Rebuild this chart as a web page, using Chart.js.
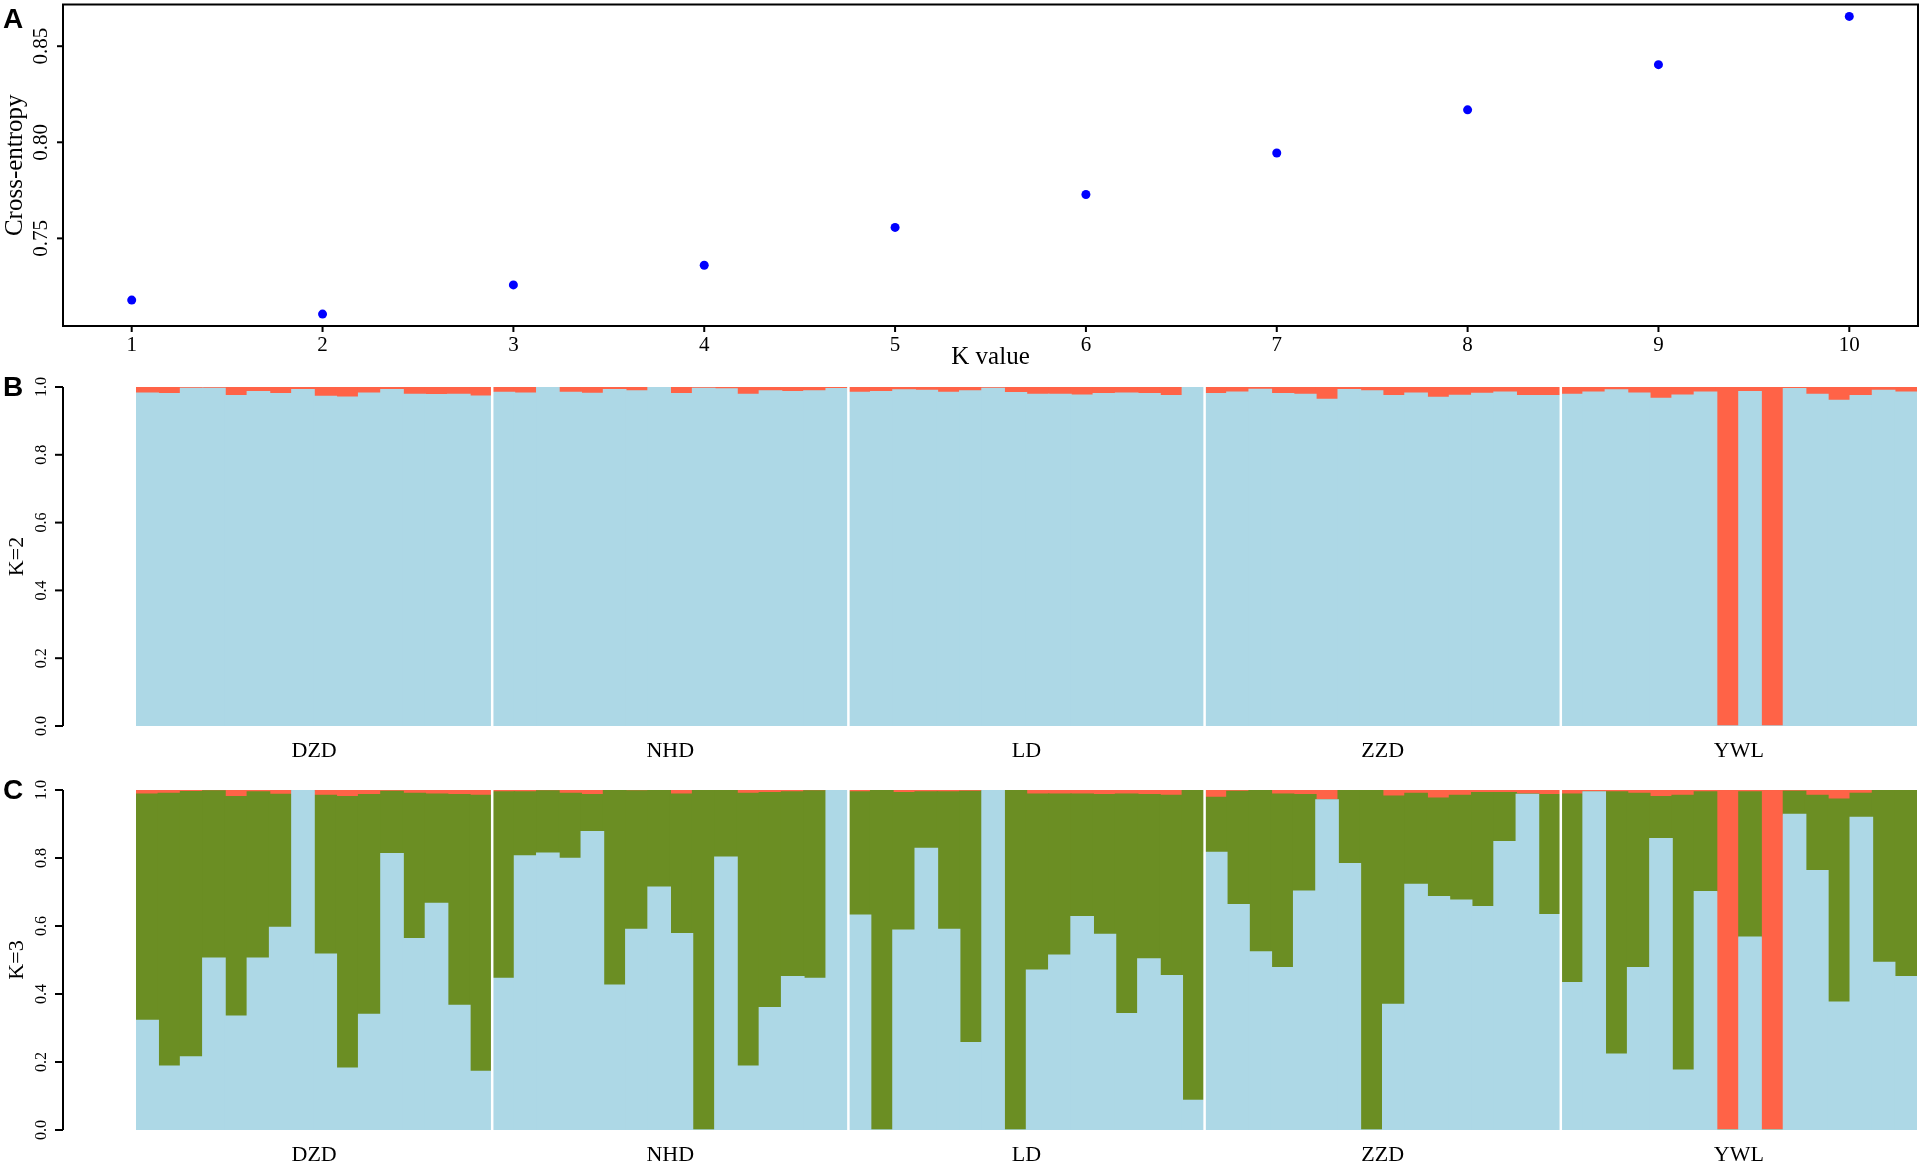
<!DOCTYPE html>
<html>
<head>
<meta charset="utf-8">
<title>Cross-entropy and admixture</title>
<script src="https://cdn.jsdelivr.net/npm/chart.js@4.4.1/dist/chart.umd.min.js"></script>
<style>
  html, body { margin: 0; padding: 0; background: #fff; }
  #wrap { position: relative; width: 1923px; height: 1166px; }
  #wrap canvas { position: absolute; left: 0; top: 0; }
</style>
</head>
<body>
<div id="wrap">
  <canvas id="chartA" width="1923" height="1166"></canvas>
  <canvas id="chartB" width="1923" height="1166"></canvas>
  <canvas id="chartC" width="1923" height="1166"></canvas>
</div>
<script>
// ==========================================
// Data
// ==========================================

// Panel A: cross-entropy per K
const kValues = [1, 2, 3, 4, 5, 6, 7, 8, 9, 10];
const crossEntropy = [0.7179, 0.7106, 0.7258, 0.7360, 0.7557, 0.7728, 0.7944, 0.8169, 0.8404, 0.8655];
const yTicksA = [0.75, 0.80, 0.85];

// Panels B and C: populations, 16 individuals each
const popNames = ['DZD', 'NHD', 'LD', 'ZZD', 'YWL'];
const popSize = 16;
const yTicksQ = [0, 0.2, 0.4, 0.6, 0.8, 1.0];

// K=2 ancestry proportions (rows: DZD, NHD, LD, ZZD, YWL)
const k2Blue = [
  0.982, 0.980, 0.996, 0.996, 0.974, 0.986, 0.980, 0.992, 0.972, 0.970, 0.982, 0.992, 0.978, 0.977, 0.978, 0.973,
  0.984, 0.982, 1.000, 0.984, 0.981, 0.992, 0.988, 1.000, 0.980, 0.996, 0.994, 0.978, 0.988, 0.986, 0.988, 0.995,
  0.984, 0.986, 0.991, 0.990, 0.984, 0.988, 0.996, 0.983, 0.978, 0.978, 0.976, 0.980, 0.982, 0.980, 0.974, 1.000,
  0.980, 0.985, 0.993, 0.980, 0.978, 0.963, 0.992, 0.988, 0.974, 0.982, 0.969, 0.975, 0.981, 0.985, 0.974, 0.974,
  0.978, 0.985, 0.991, 0.982, 0.966, 0.976, 0.985, 0.000, 0.986, 0.000, 0.995, 0.978, 0.960, 0.974, 0.990, 0.985
];
const k2Red = [
  0.018, 0.020, 0.004, 0.004, 0.026, 0.014, 0.020, 0.008, 0.028, 0.030, 0.018, 0.008, 0.022, 0.023, 0.022, 0.027,
  0.016, 0.018, 0.000, 0.016, 0.019, 0.008, 0.012, 0.000, 0.020, 0.004, 0.006, 0.022, 0.012, 0.014, 0.012, 0.005,
  0.016, 0.014, 0.009, 0.010, 0.016, 0.012, 0.004, 0.017, 0.022, 0.022, 0.024, 0.020, 0.018, 0.020, 0.026, 0.000,
  0.020, 0.015, 0.007, 0.020, 0.022, 0.037, 0.008, 0.012, 0.026, 0.018, 0.031, 0.025, 0.019, 0.015, 0.026, 0.026,
  0.022, 0.015, 0.009, 0.018, 0.034, 0.024, 0.015, 1.000, 0.014, 1.000, 0.005, 0.022, 0.040, 0.026, 0.010, 0.015
];

// K=3 ancestry proportions
const k3Blue = [
  0.322, 0.188, 0.215, 0.505, 0.335, 0.505, 0.596, 0.998, 0.517, 0.182, 0.340, 0.813, 0.563, 0.666, 0.366, 0.172,
  0.446, 0.806, 0.814, 0.799, 0.877, 0.426, 0.590, 0.714, 0.577, 0.000, 0.802, 0.188, 0.360, 0.451, 0.446, 0.998,
  0.632, 0.000, 0.588, 0.828, 0.590, 0.257, 0.998, 0.000, 0.470, 0.514, 0.627, 0.575, 0.342, 0.503, 0.454, 0.087,
  0.816, 0.663, 0.524, 0.477, 0.702, 0.971, 0.783, 0.000, 0.369, 0.722, 0.686, 0.676, 0.657, 0.848, 0.987, 0.633,
  0.433, 0.994, 0.223, 0.477, 0.857, 0.176, 0.701, 0.000, 0.567, 0.000, 0.928, 0.763, 0.376, 0.919, 0.493, 0.451
];
const k3Green = [
  0.666, 0.802, 0.780, 0.492, 0.645, 0.489, 0.391, 0.000, 0.467, 0.798, 0.646, 0.183, 0.427, 0.322, 0.620, 0.812,
  0.548, 0.188, 0.183, 0.191, 0.109, 0.572, 0.407, 0.284, 0.411, 0.998, 0.196, 0.802, 0.632, 0.543, 0.551, 0.000,
  0.362, 0.998, 0.404, 0.166, 0.404, 0.739, 0.000, 0.998, 0.518, 0.474, 0.361, 0.411, 0.646, 0.483, 0.530, 0.911,
  0.162, 0.333, 0.474, 0.511, 0.284, 0.000, 0.215, 0.998, 0.613, 0.268, 0.290, 0.308, 0.335, 0.144, 0.001, 0.353,
  0.555, 0.000, 0.771, 0.513, 0.123, 0.808, 0.293, 0.000, 0.427, 0.000, 0.068, 0.221, 0.597, 0.071, 0.505, 0.547
];
const k3Red = [
  0.012, 0.010, 0.005, 0.003, 0.020, 0.006, 0.013, 0.002, 0.016, 0.020, 0.014, 0.004, 0.010, 0.012, 0.014, 0.016,
  0.006, 0.006, 0.003, 0.010, 0.014, 0.002, 0.003, 0.002, 0.012, 0.002, 0.002, 0.010, 0.008, 0.006, 0.003, 0.002,
  0.006, 0.002, 0.008, 0.006, 0.006, 0.004, 0.002, 0.002, 0.012, 0.012, 0.012, 0.014, 0.012, 0.014, 0.016, 0.002,
  0.022, 0.004, 0.002, 0.012, 0.014, 0.029, 0.002, 0.002, 0.018, 0.010, 0.024, 0.016, 0.008, 0.008, 0.012, 0.014,
  0.012, 0.006, 0.006, 0.010, 0.020, 0.016, 0.006, 1.000, 0.006, 1.000, 0.004, 0.016, 0.027, 0.010, 0.002, 0.002
];

// ==========================================
// Style
// ==========================================
const SERIF = '"Liberation Serif", "Times New Roman", serif';
const SANS = '"Liberation Sans", Arial, sans-serif';
const COL_BLUE = '#ADD8E6';
const COL_GREEN = '#6B8E23';
const COL_RED = '#FF6347';

const individuals = popNames.flatMap(p => Array.from({ length: popSize }, (_, i) => p + '_' + (i + 1)));

function vText(ctx, text, x, y) {
  ctx.save();
  ctx.translate(x, y);
  ctx.rotate(-Math.PI / 2);
  ctx.fillText(text, 0, 0);
  ctx.restore();
}

function seg(ctx, x1, y1, x2, y2) {
  ctx.beginPath();
  ctx.moveTo(x1, y1);
  ctx.lineTo(x2, y2);
  ctx.stroke();
}

// ==========================================
// Panel A - cross-entropy scatter
// ==========================================
const axesA = {
  id: 'axesA',
  afterDraw(chart) {
    const { ctx, chartArea: a, scales: { x, y } } = chart;
    ctx.save();
    ctx.strokeStyle = '#000';
    ctx.fillStyle = '#000';
    ctx.lineWidth = 2;
    ctx.strokeRect(a.left, a.top, a.right - a.left, a.bottom - a.top);

    ctx.font = '21px ' + SERIF;
    ctx.textAlign = 'center';
    ctx.textBaseline = 'middle';
    kValues.forEach(k => {
      const px = x.getPixelForValue(k);
      seg(ctx, px, a.bottom, px, a.bottom + 6);
      ctx.fillText(String(k), px, a.bottom + 19);
    });
    yTicksA.forEach(v => {
      const py = y.getPixelForValue(v);
      seg(ctx, a.left - 6, py, a.left, py);
      vText(ctx, v.toFixed(2), a.left - 22, py);
    });

    ctx.font = '25px ' + SERIF;
    ctx.fillText('K value', (a.left + a.right) / 2, a.bottom + 31);
    vText(ctx, 'Cross-entropy', 15, (a.top + a.bottom) / 2);

    ctx.font = 'bold 28px ' + SANS;
    ctx.textAlign = 'left';
    ctx.textBaseline = 'alphabetic';
    ctx.fillText('A', 3, 28);
    ctx.restore();
  }
};

new Chart(document.getElementById('chartA'), {
  type: 'scatter',
  data: {
    datasets: [{
      data: kValues.map((k, i) => ({ x: k, y: crossEntropy[i] })),
      backgroundColor: '#0000FF',
      borderColor: '#0000FF',
      borderWidth: 0,
      pointRadius: 4.5,
      pointHoverRadius: 4.5
    }]
  },
  options: {
    responsive: false,
    devicePixelRatio: 1,
    animation: false,
    events: [],
    layout: { padding: { left: 63, top: 4, right: 5, bottom: 840 } },
    plugins: { legend: { display: false }, tooltip: { enabled: false } },
    scales: {
      x: { type: 'linear', min: 0.64, max: 10.36, display: false },
      y: { type: 'linear', min: 0.7044, max: 0.8717, display: false }
    }
  },
  plugins: [axesA]
});

// ==========================================
// Panels B, C - admixture bar plots
// ==========================================
function admixPlugin(letter, kLabel) {
  return {
    id: 'admix' + letter,
    afterDraw(chart) {
      const { ctx, chartArea: a, scales: { x, y } } = chart;
      ctx.save();
      ctx.fillStyle = '#000';

      // population separators
      ctx.strokeStyle = '#fff';
      ctx.lineWidth = 2.5;
      for (let p = 1; p < popNames.length; p++) {
        const b = p * popSize;
        const px = (x.getPixelForValue(b - 1) + x.getPixelForValue(b)) / 2;
        seg(ctx, px, a.top - 1, px, a.bottom + 1);
      }

      // y axis
      ctx.strokeStyle = '#000';
      ctx.lineWidth = 2;
      const axX = 63;
      seg(ctx, axX, y.getPixelForValue(0), axX, y.getPixelForValue(1));
      ctx.font = '16px ' + SERIF;
      ctx.textAlign = 'center';
      ctx.textBaseline = 'middle';
      yTicksQ.forEach(v => {
        const py = y.getPixelForValue(v);
        seg(ctx, axX - 8, py, axX, py);
        vText(ctx, v.toFixed(1), axX - 21, py);
      });

      // population labels
      ctx.font = '22px ' + SERIF;
      popNames.forEach((name, p) => {
        const first = x.getPixelForValue(p * popSize);
        const last = x.getPixelForValue(p * popSize + popSize - 1);
        ctx.fillText(name, (first + last) / 2, a.bottom + 25);
      });

      vText(ctx, kLabel, 17, (a.top + a.bottom) / 2);

      ctx.font = 'bold 28px ' + SANS;
      ctx.textAlign = 'left';
      ctx.textBaseline = 'alphabetic';
      ctx.fillText(letter, 3, a.top + 9);
      ctx.restore();
    }
  };
}

function admixChart(id, series, top, bottom, letter, kLabel) {
  return new Chart(document.getElementById(id), {
    type: 'bar',
    data: {
      labels: individuals,
      datasets: series.map(s => ({
        data: s.values,
        backgroundColor: s.color,
        borderWidth: 0,
        inflateAmount: 0.7,
        barPercentage: 1,
        categoryPercentage: 1
      }))
    },
    options: {
      responsive: false,
      devicePixelRatio: 1,
      animation: false,
      events: [],
      layout: { padding: { left: 136, top: top, right: 6, bottom: 1166 - bottom } },
      plugins: { legend: { display: false }, tooltip: { enabled: false } },
      scales: {
        x: { stacked: true, display: false },
        y: { stacked: true, min: 0, max: 1, display: false }
      }
    },
    plugins: [admixPlugin(letter, kLabel)]
  });
}

admixChart('chartB', [
  { values: k2Blue, color: COL_BLUE },
  { values: k2Red, color: COL_RED }
], 387, 726, 'B', 'K=2');

admixChart('chartC', [
  { values: k3Blue, color: COL_BLUE },
  { values: k3Green, color: COL_GREEN },
  { values: k3Red, color: COL_RED }
], 790, 1130, 'C', 'K=3');
</script>
</body>
</html>
